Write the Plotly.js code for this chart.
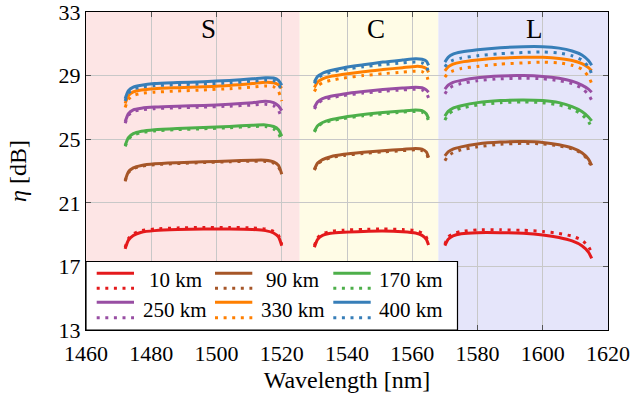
<!DOCTYPE html>
<html>
<head>
<meta charset="utf-8">
<script src="https://cdn.plot.ly/plotly-3.0.1.min.js"></script>
<style>html,body{margin:0;padding:0;background:#fff;}#chart{width:635px;height:405px;}</style>
</head>
<body>
<div id="chart"></div>
<script>
// Wavelength sample points (nm) for S, C, L bands (null = gap between bands)
const wlS = [1472, 1473, 1474.5, 1477, 1481, 1488, 1496, 1504, 1511, 1515, 1517.5, 1519, 1520];
const wlC = [1530, 1531, 1532.5, 1535, 1539, 1545, 1551, 1557, 1561, 1563, 1564.3, 1565];
const wlL = [1570, 1571, 1572.5, 1575, 1580, 1587, 1594, 1600, 1605, 1609, 1612, 1614, 1615];

// Band edges (nm) and band names
const bandEdges = [1460, 1525.5, 1568, 1620];
const bandNames = ['S', 'C', 'L'];
const bandLabelX = [1497.5, 1549, 1597.5];

// Distance labels
const distLabels = ['10 km', '90 km', '170 km', '250 km', '330 km', '400 km'];

// eta [dB], solid curves (s) and dotted curves (d), per band
const s10_S  = [18.1, 18.65, 18.95, 19.15, 19.25, 19.32, 19.35, 19.35, 19.32, 19.25, 19.1, 18.85, 18.3];
const s10_C  = [18.2, 18.7, 18.95, 19.08, 19.15, 19.2, 19.22, 19.18, 19.1, 18.95, 18.7, 18.35];
const s10_L  = [18.3, 18.7, 18.92, 19.05, 19.12, 19.12, 19.08, 18.98, 18.82, 18.6, 18.3, 17.9, 17.5];
const d10_S  = [18.2, 18.75, 19.05, 19.25, 19.35, 19.42, 19.45, 19.45, 19.42, 19.35, 19.2, 18.95, 18.4];
const d10_C  = [18.3, 18.8, 19.05, 19.2, 19.28, 19.33, 19.35, 19.32, 19.25, 19.1, 18.85, 18.5];
const d10_L  = [18.4, 18.85, 19.05, 19.2, 19.3, 19.3, 19.27, 19.2, 19.07, 18.9, 18.65, 18.25, 17.85];

const s90_S  = [22.4, 22.95, 23.2, 23.35, 23.45, 23.52, 23.58, 23.63, 23.68, 23.68, 23.58, 23.35, 22.8];
const s90_C  = [23.1, 23.5, 23.72, 23.9, 24.05, 24.18, 24.28, 24.36, 24.42, 24.38, 24.2, 23.85];
const s90_L  = [23.95, 24.2, 24.38, 24.52, 24.7, 24.82, 24.85, 24.8, 24.65, 24.45, 24.15, 23.75, 23.35];
const d90_S  = [22.35, 22.9, 23.15, 23.3, 23.4, 23.47, 23.53, 23.58, 23.62, 23.6, 23.5, 23.25, 22.75];
const d90_C  = [23.05, 23.45, 23.66, 23.84, 23.98, 24.1, 24.2, 24.28, 24.33, 24.28, 24.1, 23.75];
const d90_L  = [23.65, 23.95, 24.15, 24.33, 24.52, 24.68, 24.74, 24.7, 24.58, 24.4, 24.1, 23.65, 23.2];

const s170_S = [24.6, 25.1, 25.35, 25.5, 25.6, 25.68, 25.74, 25.8, 25.88, 25.9, 25.8, 25.6, 25.2];
const s170_C = [25.5, 25.85, 26.05, 26.22, 26.38, 26.55, 26.68, 26.78, 26.84, 26.8, 26.6, 26.3];
const s170_L = [26.45, 26.75, 26.95, 27.1, 27.3, 27.43, 27.47, 27.43, 27.3, 27.05, 26.75, 26.4, 26.15];
const d170_S = [24.55, 25.0, 25.25, 25.42, 25.52, 25.6, 25.66, 25.72, 25.8, 25.8, 25.65, 25.35, 24.9];
const d170_C = [25.45, 25.8, 26.0, 26.15, 26.3, 26.47, 26.6, 26.7, 26.75, 26.7, 26.5, 26.15];
const d170_L = [26.2, 26.55, 26.78, 26.95, 27.15, 27.3, 27.35, 27.3, 27.15, 26.9, 26.55, 26.1, 25.75];

const s250_S = [26.1, 26.6, 26.85, 26.95, 27.02, 27.08, 27.12, 27.2, 27.3, 27.38, 27.3, 27.1, 26.8];
const s250_C = [27.0, 27.35, 27.55, 27.7, 27.85, 28.0, 28.12, 28.22, 28.27, 28.24, 28.1, 27.95];
const s250_L = [28.15, 28.4, 28.58, 28.7, 28.87, 28.98, 29.0, 28.95, 28.83, 28.65, 28.4, 28.15, 27.95];
const d250_S = [26.0, 26.5, 26.75, 26.85, 26.92, 26.98, 27.02, 27.08, 27.15, 27.2, 27.1, 26.8, 26.3];
const d250_C = [26.9, 27.25, 27.45, 27.6, 27.75, 27.9, 28.02, 28.1, 28.14, 28.1, 27.9, 27.6];
const d250_L = [27.85, 28.15, 28.35, 28.5, 28.68, 28.8, 28.84, 28.8, 28.68, 28.5, 28.2, 27.8, 27.45];

const s330_S = [27.25, 27.75, 27.98, 28.1, 28.18, 28.24, 28.3, 28.38, 28.5, 28.58, 28.55, 28.42, 28.2];
const s330_C = [28.25, 28.6, 28.8, 28.95, 29.08, 29.25, 29.38, 29.5, 29.58, 29.56, 29.45, 29.2];
const s330_L = [29.3, 29.55, 29.72, 29.85, 29.98, 30.1, 30.15, 30.15, 30.08, 29.95, 29.75, 29.5, 29.3];
const d330_S = [27.0, 27.5, 27.75, 27.88, 27.96, 28.03, 28.1, 28.18, 28.28, 28.35, 28.3, 28.0, 27.4];
const d330_C = [28.0, 28.35, 28.55, 28.7, 28.85, 29.0, 29.12, 29.22, 29.28, 29.25, 29.05, 28.6];
const d330_L = [28.9, 29.15, 29.3, 29.45, 29.58, 29.72, 29.8, 29.85, 29.8, 29.65, 29.4, 28.95, 28.5];

const s400_S = [27.55, 28.05, 28.28, 28.4, 28.5, 28.56, 28.62, 28.7, 28.8, 28.87, 28.85, 28.7, 28.4];
const s400_C = [28.6, 28.95, 29.15, 29.32, 29.5, 29.68, 29.85, 29.98, 30.06, 30.03, 29.92, 29.65];
const s400_L = [29.85, 30.15, 30.35, 30.48, 30.62, 30.75, 30.82, 30.82, 30.73, 30.55, 30.3, 29.95, 29.65];
const d400_S = [27.4, 27.9, 28.15, 28.28, 28.37, 28.43, 28.48, 28.55, 28.65, 28.72, 28.68, 28.45, 28.0];
const d400_C = [28.5, 28.85, 29.05, 29.2, 29.38, 29.55, 29.7, 29.8, 29.85, 29.8, 29.62, 29.2];
const d400_L = [29.55, 29.8, 29.97, 30.1, 30.25, 30.38, 30.45, 30.49, 30.42, 30.25, 29.98, 29.55, 29.1];

const yTicks = [13, 17, 21, 25, 29, 33];
const xTicks = [1460, 1480, 1500, 1520, 1540, 1560, 1580, 1600, 1620];

// ---- styling ----
const colors = ['#e41a1c', '#a65628', '#4daf4a', '#984ea3', '#ff7f00', '#377eb8'];
const bandColors = ['rgb(253,229,229)', 'rgb(255,252,230)', 'rgb(229,229,250)'];
const DOT = '3px,5.6px';
const FONT = 'Liberation Serif';

const solidSets = [[s10_S, s10_C, s10_L], [s90_S, s90_C, s90_L], [s170_S, s170_C, s170_L],
                   [s250_S, s250_C, s250_L], [s330_S, s330_C, s330_L], [s400_S, s400_C, s400_L]];
const dotSets = [[d10_S, d10_C, d10_L], [d90_S, d90_C, d90_L], [d170_S, d170_C, d170_L],
                 [d250_S, d250_C, d250_L], [d330_S, d330_C, d330_L], [d400_S, d400_C, d400_L]];

const xAll = wlS.concat([null], wlC, [null], wlL);
function join(sets) { return sets[0].concat([null], sets[1], [null], sets[2]); }

const traces = [];
for (let i = 0; i < 6; i++) {
  traces.push({x: xAll, y: join(solidSets[i]), type: 'scatter', mode: 'lines', connectgaps: false,
    line: {color: colors[i], width: 3, shape: 'spline', smoothing: 0.6}, name: distLabels[i], showlegend: false, hoverinfo: 'skip'});
  traces.push({x: xAll, y: join(dotSets[i]), type: 'scatter', mode: 'lines', connectgaps: false,
    line: {color: colors[i], width: 3, dash: DOT, shape: 'spline', smoothing: 0.6}, name: distLabels[i], showlegend: false, hoverinfo: 'skip'});
}

const shapes = [];
for (let b = 0; b < 3; b++) {
  shapes.push({type: 'rect', xref: 'x', yref: 'paper', x0: bandEdges[b], x1: bandEdges[b + 1], y0: 0, y1: 1,
    fillcolor: bandColors[b], line: {width: 0}, layer: 'below'});
}
// custom legend (two-line samples per entry)
const L0 = 86, PW = 522, B0 = 330, PH = 318;
function px(x) { return (x - L0) / PW; }
function py(y) { return (B0 - y) / PH; }
shapes.push({type: 'rect', xref: 'paper', yref: 'paper', x0: 0, x1: px(457.5), y0: 0, y1: py(261.5),
  fillcolor: 'white', line: {color: 'black', width: 1.2}, layer: 'above'});
const colSample = [[96.7, 134], [215, 252.3], [333.3, 370.7]];
const colText = [175, 292.5, 410.5];
const rowSolid = [273.3, 302.3], rowDot = [288.3, 317.7], rowText = [280, 310];
const annotations = [];
for (let i = 0; i < 6; i++) {
  const c = i % 3, r = Math.floor(i / 3);
  shapes.push({type: 'line', xref: 'paper', yref: 'paper', x0: px(colSample[c][0]), x1: px(colSample[c][1]),
    y0: py(rowSolid[r]), y1: py(rowSolid[r]), line: {color: colors[i], width: 3}, layer: 'above'});
  shapes.push({type: 'line', xref: 'paper', yref: 'paper', x0: px(colSample[c][0]), x1: px(colSample[c][1]),
    y0: py(rowDot[r]), y1: py(rowDot[r]), line: {color: colors[i], width: 3, dash: DOT}, layer: 'above'});
  annotations.push({xref: 'paper', yref: 'paper', x: px(colText[c]), y: py(rowText[r]), xanchor: 'center', yanchor: 'middle',
    text: distLabels[i], showarrow: false, font: {family: FONT, size: 21, color: 'black'}});
}
for (let b = 0; b < 3; b++) {
  annotations.push({xref: 'x', yref: 'paper', x: bandLabelX[b], y: py(28.5), xanchor: 'center', yanchor: 'middle',
    text: bandNames[b], showarrow: false, font: {family: FONT, size: 27, color: 'black'}});
}

const axisCommon = {
  showgrid: true, gridcolor: 'rgb(200,200,200)', gridwidth: 1,
  showline: true, linecolor: 'black', linewidth: 1.2, mirror: 'ticks',
  ticks: 'inside', ticklen: 5, tickcolor: '#555', tickwidth: 1,
  zeroline: false, ticklabeloverflow: 'allow',
  tickfont: {family: FONT, size: 22, color: 'black'}
};

const layout = {
  width: 635, height: 405,
  margin: {l: 86, r: 27, t: 12, b: 75, pad: 0},
  font: {family: FONT},
  paper_bgcolor: 'white', plot_bgcolor: 'rgba(0,0,0,0)',
  showlegend: false,
  xaxis: Object.assign({}, axisCommon, {range: [1460, 1620], tickvals: xTicks, ticktext: xTicks.map(String),
    ticklabelstandoff: 3,
    title: {text: 'Wavelength [nm]', font: {family: FONT, size: 24, color: 'black'}, standoff: 6}}),
  yaxis: Object.assign({}, axisCommon, {range: [13, 33.001], tickvals: yTicks, ticktext: yTicks.map(String),
    title: {text: '<i>η</i> [dB]', font: {family: FONT, size: 24, color: 'black'}, standoff: 25}}),
  shapes: shapes,
  annotations: annotations
};

Plotly.newPlot('chart', traces, layout, {staticPlot: true, displayModeBar: false});
</script>
</body>
</html>
